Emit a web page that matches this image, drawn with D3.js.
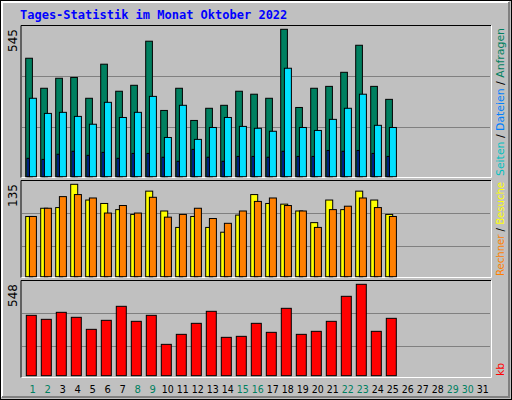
<!DOCTYPE html>
<html><head><meta charset="utf-8">
<script src="https://cdn.jsdelivr.net/npm/d3@7"></script>
<style>body{margin:0;background:#fff}</style></head>
<body><svg id="c" width="512" height="400"></svg>
<script>
const days = d3.range(1,32);
const weekendDays = [1,2,8,9,15,16,22,23,29,30];
const anfragen = [438,327,364,367,290,416,316,338,501,245,327,208,253,264,316,305,290,545,256,327,334,386,486,334,286];
const dateien  = [290,234,238,223,194,275,219,238,297,145,264,138,182,219,186,179,168,401,182,171,212,253,305,190,182];
const seiten   = [68,64,83,94,79,90,68,86,86,72,57,101,72,57,75,75,72,94,75,75,97,94,97,86,75];
const besuche  = [88,100,101,135,112,107,98,91,125,96,72,88,72,65,90,120,107,106,96,79,112,98,125,112,91];
const rechner  = [88,100,117,120,115,93,104,93,116,87,91,100,85,78,96,110,115,104,96,72,98,103,115,101,88];
const kb       = [362,338,380,350,278,332,416,326,362,188,248,314,386,230,236,314,260,404,248,266,326,476,548,266,344];
const maxLabels = ["545","135","548"];

const svg = d3.select("#c");
svg.append("rect").attr("x",0.5).attr("y",0.5).attr("width",511).attr("height",399).attr("fill","#c0c0c0").attr("stroke","#000");
svg.append("path").attr("d","M2,397V2H509").attr("fill","none").attr("stroke","#fff").attr("stroke-width",2);
svg.append("path").attr("d","M2,397H509V2").attr("fill","none").attr("stroke","#808080").attr("stroke-width",2);
svg.append("text").attr("x",20).attr("y",19).attr("font-family","DejaVu Sans Mono").attr("font-weight","bold")
  .attr("font-size",12).attr("fill","#0000ff").text("Tages-Statistik im Monat Oktober 2022");

const x = d3.scaleLinear().domain([1,32]).range([25.7,25.7+15*31]);

function panel(top,bottom,gl){
  svg.append("path").attr("d",`M21,${bottom}V${top}H491`).attr("fill","none").attr("stroke","#000");
  svg.append("path").attr("d",`M21.5,${bottom}H491.5V${top}`).attr("fill","none").attr("stroke","#fff");
  gl.forEach(g=>svg.append("line").attr("x1",22).attr("x2",490).attr("y1",g).attr("y2",g).attr("stroke","#808080"));
}
panel(25.5,177.5,[76.5,127.5]);
panel(180.5,277.5,[213.5,246.5]);
panel(280.5,377.5,[313.5,346.5]);

function bars(data,y,off,w,color){
  svg.append("g").selectAll("rect").data(data).join("rect")
    .attr("x",(d,i)=>x(i+1)+off).attr("y",d=>y(d)).attr("width",w)
    .attr("height",d=>y(0)-y(d)).attr("fill",color).attr("stroke","#000");
}
const y1 = d3.scaleLinear().domain([0,545]).range([176.7,29.3]);
bars(anfragen,y1,0,6.7,"#008060");
bars(dateien,y1,3.7,7,"#00e0ff");
bars(seiten,y1,1.3,2,"#0040ff");
const y2 = d3.scaleLinear().domain([0,135]).range([276.7,184.3]);
bars(besuche,y2,0,7,"#ffff00");
bars(rechner,y2,3.7,7,"#ff8000");
const y3 = d3.scaleLinear().domain([0,548]).range([375.7,284.3]);
bars(kb,y3,0.6,10,"#ff0000");

[[29,maxLabels[0]],[184,maxLabels[1]],[284,maxLabels[2]]].forEach(([yy,t])=>{
  svg.append("text").attr("transform",`translate(17,${yy}) rotate(-90)`).attr("text-anchor","end")
   .attr("font-family","DejaVu Sans").attr("font-size",12).attr("fill","#000").text(t);
});
function legend(yb,len,parts){
  const t=svg.append("text").attr("transform",`translate(504,${yb}) rotate(-90)`)
    .attr("font-family","DejaVu Sans").attr("font-size",11);
  if(len) t.attr("textLength",len).attr("lengthAdjust","spacingAndGlyphs");
  parts.forEach(([s,c])=>t.append("tspan").attr("fill",c).text(s));
}
legend(176,148,[["Seiten","#00c0c0"],[" / ","#000"],["Dateien","#0080ff"],[" / ","#000"],["Anfragen","#008060"]]);
legend(276,94,[["Rechner","#ff8000"],[" / ","#000"],["Besuche","#ffff00"]]);
legend(376,0,[["kb","#ff0000"]]);
svg.append("g").selectAll("text").data(days).join("text")
  .attr("x",d=>x(d)+7).attr("y",393).attr("text-anchor","middle")
  .attr("font-family","DejaVu Sans").attr("font-size",10)
  .attr("textLength",d=>d>=10?12:null).attr("lengthAdjust","spacingAndGlyphs")
  .attr("fill",d=>weekendDays.includes(d)?"#008060":"#000").text(d=>d);
</script></body></html>
